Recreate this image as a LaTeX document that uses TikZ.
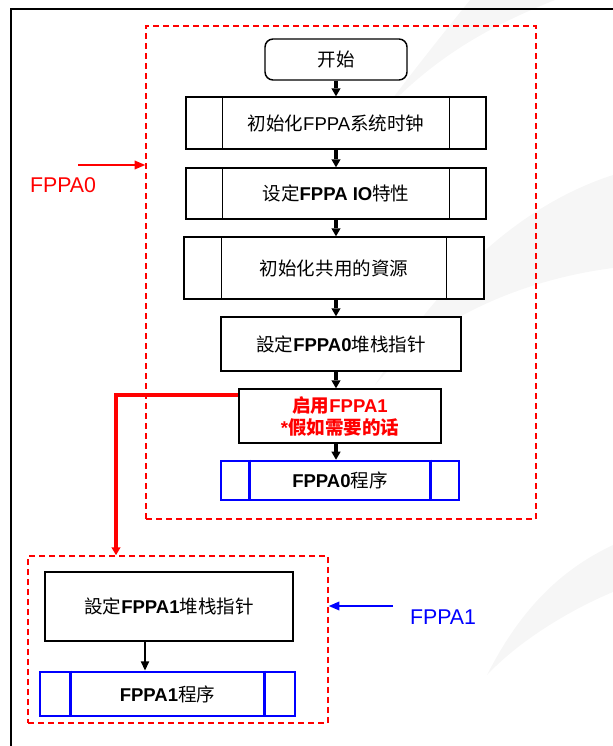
\documentclass[tikz,border=0pt]{standalone}
\usepackage{fontspec}
\setmainfont{Liberation Sans}
\newfontfamily\cjk{Noto Sans CJK SC}
\usetikzlibrary{arrows.meta}
\newcommand\zh[1]{{\cjk #1}}

\begin{document}
\begin{tikzpicture}[x=0.75pt,y=-0.75pt]
		\tikzstyle{stepbox} = [draw,fill=white,line width=1.1pt,inner sep=0pt,align=center,font=\fontsize{13.9}{16.5}\selectfont]
		\tikzstyle{progbox} = [stepbox,draw=blue,line width=2pt]
		\tikzstyle{grpbox} = [draw=red,line width=1.1pt,dash pattern=on 4.5pt off 3pt,inner sep=0pt]
		\useasboundingbox (0,0) rectangle (613,746);

		% faint swooshes in the back
		\fill[gray!7] (380,115) .. controls (420,62) and (450,25) .. (470,0) -- (555,0) .. controls (480,30) and (430,62) .. (380,115) -- cycle;
		\fill[gray!7] (375,385) .. controls (440,280) and (520,205) .. (613,175) -- (613,268) .. controls (520,280) and (430,320) .. (375,385) -- cycle;
		\fill[gray!7] (487,675) .. controls (520,610) and (560,570) .. (613,545) -- (613,592) .. controls (570,610) and (520,640) .. (487,675) -- cycle;
		\draw[line width=1.5pt] (11,746) -- (11,9) -- (613,9);

		% FPPA0 group
		\node[grpbox,minimum width=292.5pt,minimum height=369.75pt] (grp0) at (341,272.5) {};
		\node[stepbox,rounded corners=6pt,minimum width=106.5pt,minimum height=30.75pt] (start) at (336,59.5) {\zh{开始}};
		\node[stepbox,minimum width=225pt,minimum height=39pt] (clk) at (336,123) {\zh{初始化}FPPA\zh{系统时钟}};
		\node[stepbox,minimum width=225pt,minimum height=38.25pt] (io) at (336,193.5) {\zh{设定}\textbf{FPPA IO}\zh{特性}};
		\node[stepbox,minimum width=225pt,minimum height=46.5pt] (res) at (334,268) {\zh{初始化共用的資源}};
		\node[stepbox,minimum width=180pt,minimum height=40.5pt] (sp0) at (341,344) {\zh{設定}\textbf{FPPA0}\zh{堆栈指针}};
		\node[stepbox,text=red,font=\fontsize{13.9}{16.5}\selectfont\bfseries,minimum width=151.5pt,minimum height=40.5pt] (en1) at (340,416) {\zh{启用}FPPA1\\*\zh{假如需要的话}};
		\node[progbox,minimum width=178.5pt,minimum height=29.25pt] (prog0) at (340,480.5) {\textbf{FPPA0}\zh{程序}};

		\foreach \n/\s in {clk/27.75pt,io/27.75pt,res/28.5pt}
		{
			\draw ([xshift=\s]\n.north west) -- ([xshift=\s]\n.south west);
			\draw ([xshift=-\s]\n.north east) -- ([xshift=-\s]\n.south east);
		}
		\draw[blue,line width=2pt] ([xshift=22.5pt]prog0.north west) -- ([xshift=22.5pt]prog0.south west);
		\draw[blue,line width=2pt] ([xshift=-22.5pt]prog0.north east) -- ([xshift=-22.5pt]prog0.south east);

		\foreach \a/\b in {start/clk,clk/io,io/res,res/sp0,sp0/en1,en1/prog0}
			\draw[line width=3pt,line cap=butt,-{Triangle[length=6pt,width=7pt,line width=0pt]}] (start.south |- \a.south) -- (start.south |- \b.north);

		% FPPA1 group
		\node[grpbox,minimum width=225pt,minimum height=125.25pt] (grp1) at (178,639.5) {};
		\node[stepbox,minimum width=186pt,minimum height=51.75pt] (sp1) at (169,606.5) {\zh{設定}\textbf{FPPA1}\zh{堆栈指针}};
		\node[progbox,minimum width=191.25pt,minimum height=33pt] (prog1) at (167.5,694) {\textbf{FPPA1}\zh{程序}};
		\draw[blue,line width=2pt] ([xshift=24pt]prog1.north west) -- ([xshift=24pt]prog1.south west);
		\draw[blue,line width=2pt] ([xshift=-24pt]prog1.north east) -- ([xshift=-24pt]prog1.south east);
		\draw[line width=1.5pt,-{Triangle[length=7pt,width=6pt]}] ([xshift=-18pt]sp1.south) -- ([xshift=-18pt]sp1.south |- prog1.north);

		% start FPPA1
		\coordinate (turn) at (116,395);
		\draw[red,line width=3pt,-{Triangle[length=6pt,width=6.5pt]}] (en1.west |- turn) -- (turn) -- (turn |- grp1.north);

		% labels
		\node[text=red,font=\fontsize{16}{19}\selectfont] (lab0) at (63,185) {FPPA0};
		\coordinate (a0) at (78,165);
		\draw[red,line width=1.1pt,-{Triangle[length=8pt,width=6.5pt]}] (a0) -- (a0 -| grp0.west);
		\node[text=blue,font=\fontsize{16}{19}\selectfont] (lab1) at (443,617) {FPPA1};
		\coordinate (a1) at (393,606);
		\draw[blue,line width=1.1pt,-{Triangle[length=8pt,width=6.5pt]}] (a1) -- (a1 -| grp1.east);
	\end{tikzpicture}
\end{document}
